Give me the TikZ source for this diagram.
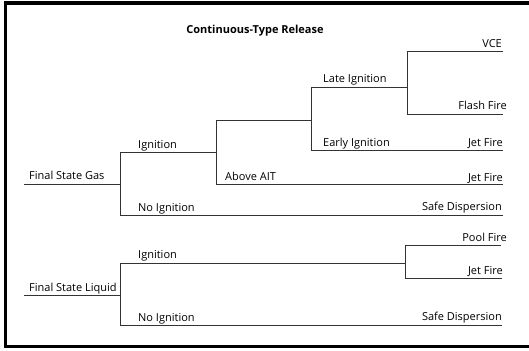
\documentclass[tikz,border=0pt]{standalone}
\usepackage{fontspec}
\setmainfont{Open Sans}
\begin{document}
\begin{tikzpicture}[x=1pt,y=-1pt,
  branch/.style={draw=black!80, line width=0.8pt},
  lbl/.style={inner sep=0pt, anchor=base west, font=\fontsize{11}{13}\selectfont},
  outc/.style={inner sep=0pt, anchor=base east, font=\fontsize{11}{13}\selectfont},
  ttl/.style={inner sep=0pt, anchor=base, font=\bfseries\fontsize{11}{13}\selectfont}]
\useasboundingbox (0,0) rectangle (529,350);
% outer frame, open past the right edge
\draw[line width=3.2pt] (535,3) -- (5.6,3) -- (5.6,346.2) -- (535,346.2);

\node[ttl] (title) at (255,34) {Continuous-Type Release};

% ---- gas branch ----
\coordinate (g0) at (24,184);
\coordinate (g1) at (120,184);
\coordinate (gi) at (120,152);
\coordinate (gn) at (120,215);
\coordinate (gi2) at (216,152);
\coordinate (ga) at (216,120);
\coordinate (gb) at (216,184);
\coordinate (gc) at (311,120);
\coordinate (gl) at (311,87);
\coordinate (ge) at (311,150);
\coordinate (gl2) at (407,87);
\coordinate (gv) at (407,51);
\coordinate (gf) at (407,114);
\coordinate (ev) at (503,51);
\coordinate (ef) at (503,114);
\coordinate (ej) at (503,150);
\coordinate (eb) at (503,184);
\coordinate (es) at (503,215);

\draw[branch] (g0) -- (g1);
\draw[branch] (gi) -- (gn);
\draw[branch] (gi) -- (gi2);
\draw[branch] (ga) -- (gb);
\draw[branch] (ga) -- (gc);
\draw[branch] (gl) -- (ge);
\draw[branch] (gl) -- (gl2);
\draw[branch] (gv) -- (gf);
\draw[branch] (gv) -- (ev);
\draw[branch] (gf) -- (ef);
\draw[branch] (ge) -- (ej);
\draw[branch] (gb) -- (eb);
\draw[branch] (gn) -- (es);

\node[lbl] (tgas) at (29,179) {Final State Gas};
\node[lbl] (tgi) at (138,148) {Ignition};
\node[lbl] (tab) at (225,180) {Above AIT};
\node[lbl] (tgn) at (138,211) {No Ignition};
\node[lbl] (tli) at (323,83) {Late Ignition};
\node[lbl] (tei) at (323,146) {Early Ignition};
\node[outc] (tvce) at (502,48) {VCE};
\node[outc] (tff) at (507,110) {Flash Fire};
\node[outc] (tjf1) at (503,146) {Jet Fire};
\node[outc] (tjf2) at (503,181) {Jet Fire};
\node[outc] (tsd1) at (502,210) {Safe Dispersion};

% ---- liquid branch ----
\coordinate (l0) at (24,295);
\coordinate (l1) at (120,295);
\coordinate (li) at (120,263);
\coordinate (ln) at (120,325);
\coordinate (li2) at (405,263);
\coordinate (lp) at (405,245);
\coordinate (lj) at (405,278);
\coordinate (ep) at (501,245);
\coordinate (elj) at (502,278);
\coordinate (els) at (502,325);

\draw[branch] (l0) -- (l1);
\draw[branch] (li) -- (ln);
\draw[branch] (li) -- (li2);
\draw[branch] (lp) -- (lj);
\draw[branch] (lp) -- (ep);
\draw[branch] (lj) -- (elj);
\draw[branch] (ln) -- (els);

\node[lbl] (tliq) at (29,291) {Final State Liquid};
\node[lbl] (tli2) at (138,258) {Ignition};
\node[lbl] (tln) at (138,321) {No Ignition};
\node[outc] (tpf) at (507,241) {Pool Fire};
\node[outc] (tjf3) at (503,274) {Jet Fire};
\node[outc] (tsd2) at (502,320) {Safe Dispersion};
\end{tikzpicture}
\end{document}
